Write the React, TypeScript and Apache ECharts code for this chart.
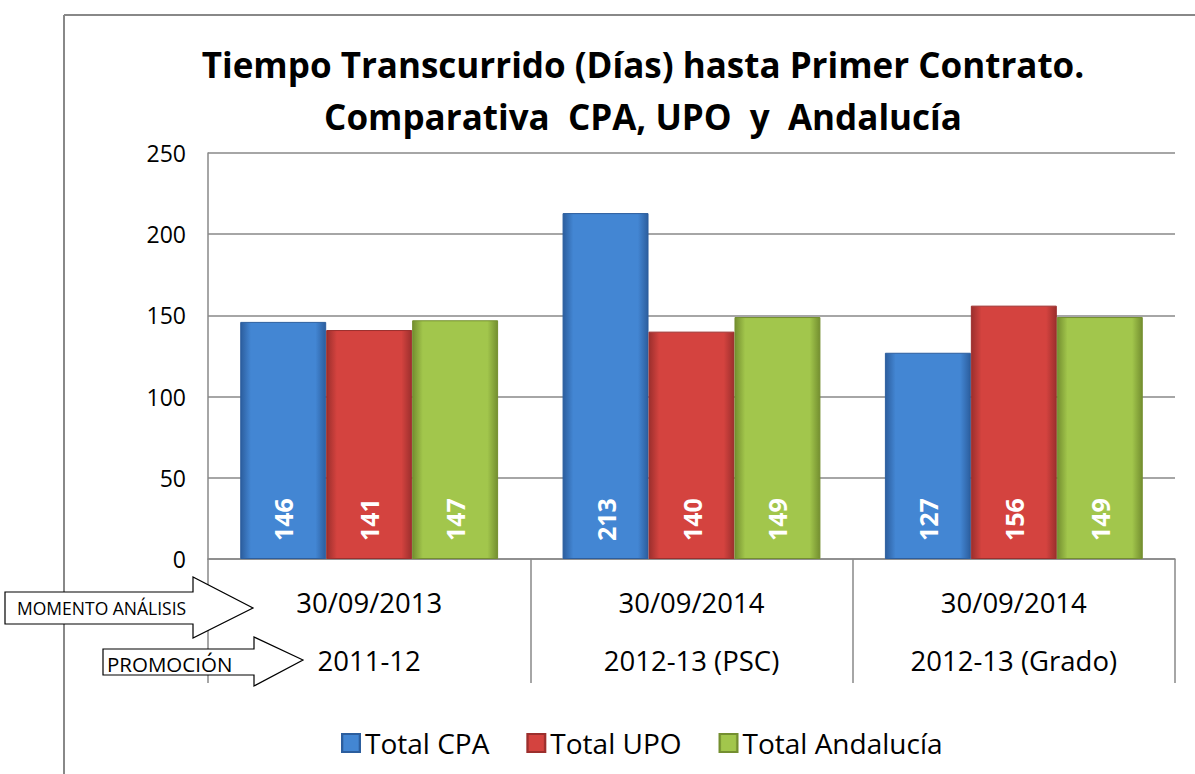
import React, { useEffect, useRef } from "react";
import * as echarts from "echarts";

const dates = ["30/09/2013", "30/09/2014", "30/09/2014"];
const promos = ["2011-12", "2012-13 (PSC)", "2012-13 (Grado)"];
const seriesNames = ["Total CPA", "Total UPO", "Total Andalucía"];
const cpa = [146, 213, 127];
const upo = [141, 140, 156];
const andalucia = [147, 149, 149];
const yTicks = { min: 0, max: 250, interval: 50 };

const FONT = "'Open Sans', 'Noto Sans', sans-serif";

function grad(light: string, dark: string) {
  return new echarts.graphic.LinearGradient(0, 0, 1, 0, [
    { offset: 0, color: dark },
    { offset: 0.12, color: light },
    { offset: 0.88, color: light },
    { offset: 1, color: dark },
  ]);
}

export default function App() {
  const ref = useRef<HTMLDivElement>(null);
  useEffect(() => {
    const chart = echarts.init(ref.current!, undefined, { renderer: "svg" });
    const colors = [
      ["#4386d3", "#2c5e9e"],
      ["#d4433f", "#9c2f2d"],
      ["#a2c64c", "#748f30"],
    ];
    const vals = [cpa, upo, andalucia];
    const categories = dates.map((d, i) => d + "\n" + promos[i]);
    chart.setOption({
      animation: false,
      backgroundColor: "#ffffff",
      title: {
        text: "Tiempo Transcurrido (Días) hasta Primer Contrato.\nComparativa  CPA, UPO  y  Andalucía",
        left: 638,
        textAlign: "center",
        top: 33,
        textStyle: {
          fontFamily: FONT,
          fontWeight: "bold",
          fontSize: 35,
          lineHeight: 52,
          color: "#000",
        },
      },
      legend: {
        top: 724,
        left: 336,
        itemWidth: 18,
        itemHeight: 18,
        itemGap: 37,
        icon: "rect",
        textStyle: { fontFamily: FONT, fontSize: 28, color: "#000" },
        data: seriesNames,
      },
      grid: { left: 208, right: 20, top: 153, bottom: 215, containLabel: false },
      xAxis: {
        type: "category",
        data: categories,
        axisLine: { show: true, lineStyle: { color: "#888", width: 1.5 } },
        axisTick: { show: true, length: 124, lineStyle: { color: "#888", width: 1.5 } },
        axisLabel: {
          margin: 14,
          fontFamily: FONT,
          fontSize: 27.5,
          lineHeight: 58,
          color: "#000",
        },
      },
      yAxis: {
        type: "value",
        min: yTicks.min,
        max: yTicks.max,
        interval: yTicks.interval,
        axisLine: { show: true, lineStyle: { color: "#888", width: 1.5 } },
        axisTick: { show: false },
        splitLine: { lineStyle: { color: "#888", width: 1.5 } },
        axisLabel: { fontFamily: FONT, fontSize: 23, color: "#000", margin: 22 },
      },
      series: seriesNames.map((name, i) => ({
        name,
        type: "bar",
        data: vals[i],
        barGap: "0%",
        barCategoryGap: "20%",
        itemStyle: {
          color: grad(colors[i][0], colors[i][1]),
          borderColor: colors[i][1],
          borderWidth: 1,
        },
        label: {
          show: true,
          position: "insideBottom",
          rotate: 90,
          align: "left",
          verticalAlign: "middle",
          distance: 18,
          color: "#fff",
          fontFamily: FONT,
          fontWeight: "bold",
          fontSize: 25,
        },
      })),
      graphic: [
        { type: "line", shape: { x1: 64, y1: 15, x2: 1195, y2: 15 }, style: { stroke: "#888", lineWidth: 2 } },
        { type: "line", shape: { x1: 64, y1: 15, x2: 64, y2: 774 }, style: { stroke: "#888", lineWidth: 2 } },
        {
          type: "polygon",
          shape: {
            points: [
              [5, 592], [193, 592], [193, 577], [253, 608], [193, 638], [193, 624], [5, 624],
            ],
          },
          style: { fill: "#fff", stroke: "#000", lineWidth: 1.2 },
          z: 10,
        },
        {
          type: "text",
          x: 17,
          y: 608,
          style: { text: "MOMENTO ANÁLISIS", fontFamily: FONT, fontSize: 17.5, fill: "#000", verticalAlign: "middle" },
          z: 11,
        },
        {
          type: "polygon",
          shape: {
            points: [
              [103, 649], [254, 649], [254, 637], [303, 660], [254, 686], [254, 675], [103, 675],
            ],
          },
          style: { fill: "#fff", stroke: "#000", lineWidth: 1.2 },
          z: 10,
        },
        {
          type: "text",
          x: 107,
          y: 664,
          style: { text: "PROMOCIÓN", fontFamily: FONT, fontSize: 20.5, fill: "#000", verticalAlign: "middle" },
          z: 11,
        },
      ],
    });
    return () => chart.dispose();
  }, []);
  return (
    <div
      ref={ref}
      style={{ position: "absolute", left: 0, top: 0, width: 1195, height: 774 }}
    />
  );
}
